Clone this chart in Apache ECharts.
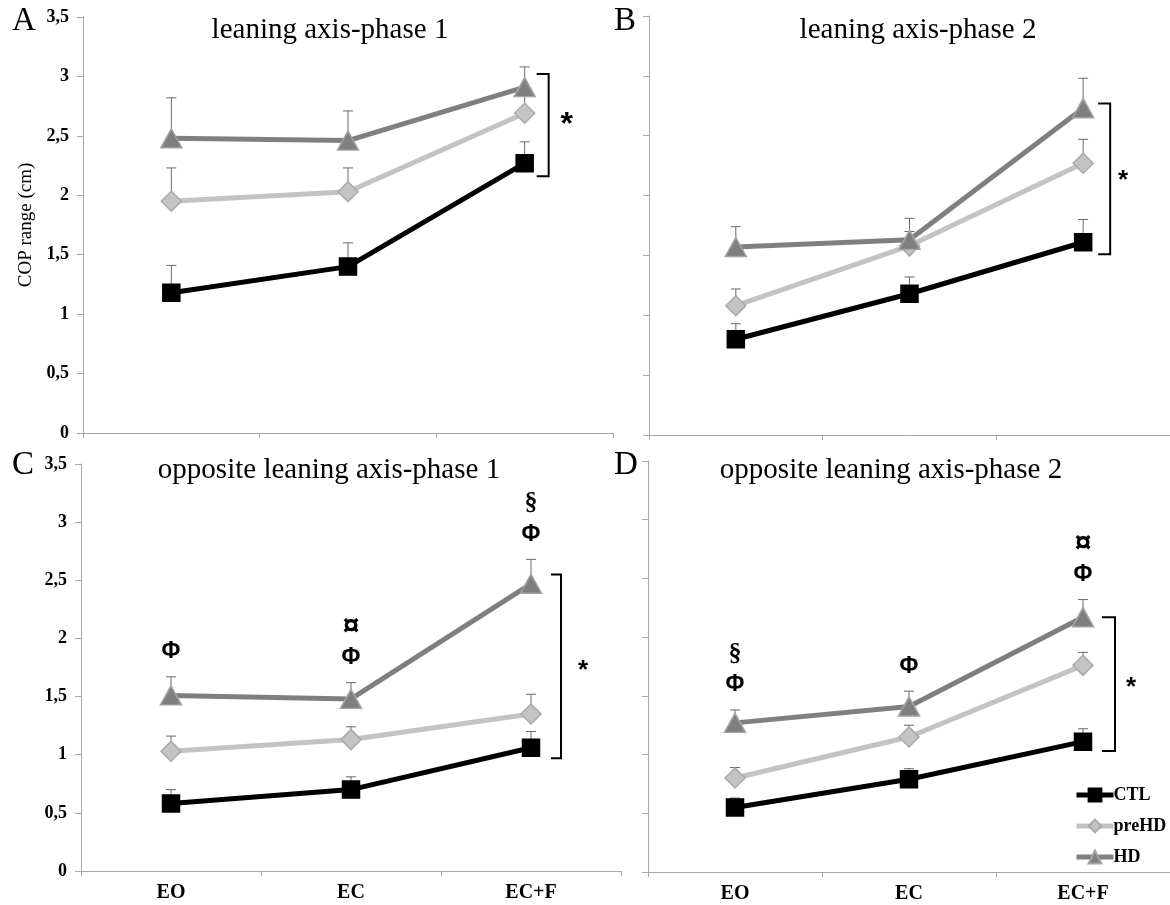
<!DOCTYPE html>
<html>
<head>
<meta charset="utf-8">
<script src="https://cdn.jsdelivr.net/npm/echarts@6/dist/echarts.min.js"></script>
<style>
html,body{margin:0;padding:0;background:#fff;}
#chart{width:1170px;height:905px;}
</style>
</head>
<body>
<div id="chart"></div>
<script>
// ---------- DATA ----------
const categories = ['EO', 'EC', 'EC+F'];
const yTicks = [0, 0.5, 1, 1.5, 2, 2.5, 3, 3.5];
const seriesNames = ['CTL', 'preHD', 'HD'];

// Panel A: leaning axis-phase 1
const A_CTL = [1.18, 1.40, 2.27];
const A_CTL_err = [1.41, 1.60, 2.45];
const A_preHD = [1.95, 2.03, 2.69];
const A_preHD_err = [2.23, 2.23, 2.84];
const A_HD = [2.48, 2.46, 2.91];
const A_HD_err = [2.82, 2.71, 3.08];

// Panel B: leaning axis-phase 2
const B_CTL = [0.80, 1.18, 1.61];
const B_CTL_err = [0.93, 1.32, 1.80];
const B_preHD = [1.08, 1.58, 2.27];
const B_preHD_err = [1.22, 1.70, 2.47];
const B_HD = [1.57, 1.63, 2.73];
const B_HD_err = [1.74, 1.81, 2.98];

// Panel C: opposite leaning axis-phase 1
const C_CTL = [0.58, 0.70, 1.06];
const C_CTL_err = [0.70, 0.81, 1.20];
const C_preHD = [1.03, 1.13, 1.35];
const C_preHD_err = [1.16, 1.24, 1.52];
const C_HD = [1.51, 1.48, 2.47];
const C_HD_err = [1.67, 1.62, 2.68];

// Panel D: opposite leaning axis-phase 2
const D_CTL = [0.55, 0.79, 1.11];
const D_CTL_err = [0.63, 0.88, 1.22];
const D_preHD = [0.80, 1.15, 1.76];
const D_preHD_err = [0.89, 1.25, 1.87];
const D_HD = [1.27, 1.41, 2.17];
const D_HD_err = [1.38, 1.54, 2.32];

// significance annotations above the HD error bars (bottom to top)
const C_marks = [['Φ'], ['Φ', '¤'], ['Φ', '§']];
const D_marks = [['Φ', '§'], ['Φ'], ['Φ', '¤']];

// significance brackets at EC+F: [top, bottom]
const A_bracket = [3.02, 2.16];
const B_bracket = [2.77, 1.51];
const C_bracket = [2.55, 0.97];
const D_bracket = [2.17, 1.03];

const titles = ['leaning axis-phase 1', 'leaning axis-phase 2', 'opposite leaning axis-phase 1', 'opposite leaning axis-phase 2'];
const letters = ['A', 'B', 'C', 'D'];

// ---------- STYLE ----------
const SERIF = '"Liberation Serif", "Times New Roman", serif';
const SANS = '"Liberation Sans", Arial, sans-serif';
const AXIS_GREY = '#a6a6a6';
const ERR_GREY = '#6a6a6a';
const markFont = { 'Φ': 'bold 23px ' + SANS, '¤': 'bold 30px ' + SANS, '§': 'bold 26px ' + SERIF };

const panels = [
  { ctl: A_CTL, ctlE: A_CTL_err, pre: A_preHD, preE: A_preHD_err, hd: A_HD, hdE: A_HD_err,
    marks: null, bracket: A_bracket, bdx: [12, 24], sdx: 42, sSize: 32, sDy: 0,
    grid: { left: 83, top: 17, width: 530, height: 416 }, yLabels: true, xLabels: false, yName: 'COP range (cm)',
    title: { x: 330, y: 16 }, letter: { x: 12, y: 5 } },
  { ctl: B_CTL, ctlE: B_CTL_err, pre: B_preHD, preE: B_preHD_err, hd: B_HD, hdE: B_HD_err,
    marks: null, bracket: B_bracket, bdx: [15, 27], sdx: 40, sSize: 26, sDy: 2,
    grid: { left: 649, top: 16, width: 522, height: 419 }, yLabels: false, xLabels: false, yName: '',
    title: { x: 918, y: 16 }, letter: { x: 614, y: 5 } },
  { ctl: C_CTL, ctlE: C_CTL_err, pre: C_preHD, preE: C_preHD_err, hd: C_HD, hdE: C_HD_err,
    marks: C_marks, bracket: C_bracket, bdx: [20, 30], sdx: 52, sSize: 26, sDy: 4,
    grid: { left: 81, top: 464, width: 540, height: 407 }, yLabels: true, xLabels: true, yName: '',
    title: { x: 329, y: 456 }, letter: { x: 12, y: 449 } },
  { ctl: D_CTL, ctlE: D_CTL_err, pre: D_preHD, preE: D_preHD_err, hd: D_HD, hdE: D_HD_err,
    marks: D_marks, bracket: D_bracket, bdx: [19, 32], sdx: 48, sSize: 26, sDy: 4,
    grid: { left: 648, top: 461, width: 522, height: 411 }, yLabels: false, xLabels: true, yName: '',
    title: { x: 891, y: 456 }, letter: { x: 614, y: 449 } }
];

const looks = [
  { name: 'CTL', color: '#000000', symbol: 'rect', size: [17, 17], border: '#000000' },
  { name: 'preHD', color: '#c3c3c3', symbol: 'diamond', size: [20, 20], border: '#a9a9a9' },
  { name: 'HD', color: '#7f7f7f', symbol: 'triangle', size: [21, 19], border: '#a3a3a3' }
];

const grids = [], xAxes = [], yAxes = [], series = [], titleComps = [];

panels.forEach((p, i) => {
  grids.push(Object.assign({ containLabel: false }, p.grid));
  xAxes.push({
    type: 'category', gridIndex: i, data: categories, boundaryGap: true,
    axisLine: { lineStyle: { color: AXIS_GREY, width: 1 } },
    axisTick: { show: true, length: 5, lineStyle: { color: AXIS_GREY } },
    axisLabel: { show: p.xLabels, fontFamily: SERIF, fontWeight: 'bold', fontSize: 20, color: '#000', margin: 12 },
    splitLine: { show: false }
  });
  yAxes.push({
    type: 'value', gridIndex: i, min: yTicks[0], max: yTicks[yTicks.length - 1], interval: 0.5,
    axisLine: { show: true, lineStyle: { color: AXIS_GREY, width: 1 } },
    axisTick: { show: true, length: 6, lineStyle: { color: AXIS_GREY } },
    axisLabel: { show: p.yLabels, fontFamily: SERIF, fontWeight: 'bold', fontSize: 18, color: '#000', margin: 14,
      formatter: v => String(v).replace('.', ',') },
    splitLine: { show: false },
    name: p.yName, nameLocation: 'middle', nameGap: 47, nameRotate: 90,
    nameTextStyle: { fontFamily: SERIF, fontSize: 19, color: '#000' }
  });

  const vals = [p.ctl, p.pre, p.hd];
  const errs = [p.ctlE, p.preE, p.hdE];

  // error bars (one-sided, upward)
  vals.forEach((v, k) => {
    series.push({
      type: 'custom', name: 'err' + i + k, xAxisIndex: i, yAxisIndex: i, z: 1, silent: true,
      data: v.map((val, j) => [j, val, errs[k][j]]),
      renderItem: (params, api) => {
        const p0 = api.coord([api.value(0), api.value(1)]);
        const p1 = api.coord([api.value(0), api.value(2)]);
        const st = { stroke: ERR_GREY, lineWidth: 1 };
        return { type: 'group', children: [
          { type: 'line', shape: { x1: p0[0], y1: p0[1], x2: p1[0], y2: p1[1] }, style: st },
          { type: 'line', shape: { x1: p1[0] - 5, y1: p1[1], x2: p1[0] + 5, y2: p1[1] }, style: st }
        ] };
      }
    });
  });

  // lines
  vals.forEach((v, k) => {
    const lk = looks[k];
    series.push({
      type: 'line', name: lk.name, xAxisIndex: i, yAxisIndex: i, z: 3 + k,
      data: v, symbol: lk.symbol, symbolSize: lk.size, showAllSymbol: true,
      lineStyle: { color: lk.color, width: 5 },
      itemStyle: { color: lk.color, borderColor: lk.border, borderWidth: 1.5, opacity: 1 },
      emphasis: { disabled: true }, animation: false
    });
  });

  // significance marks above HD
  if (p.marks) {
    series.push({
      type: 'custom', name: 'marks' + i, xAxisIndex: i, yAxisIndex: i, z: 10, silent: true,
      data: p.marks.map((m, j) => [j, p.hdE[j]]),
      renderItem: (params, api) => {
        const j = api.value(0);
        const c = api.coord([j, api.value(1)]);
        const list = p.marks[j];
        return { type: 'group', children: list.map((t, n) => ({
          type: 'text',
          style: { text: t, x: c[0], y: c[1] - 25 - n * 31, align: 'center', verticalAlign: 'middle',
            fill: '#000', font: markFont[t] }
        })) };
      }
    });
  }

  // bracket with asterisk at EC+F
  series.push({
    type: 'custom', name: 'bracket' + i, xAxisIndex: i, yAxisIndex: i, z: 10, silent: true,
    data: [[2, p.bracket[0], p.bracket[1]]],
    renderItem: (params, api) => {
      const t = api.coord([api.value(0), api.value(1)]);
      const b = api.coord([api.value(0), api.value(2)]);
      const x1 = t[0] + p.bdx[0], x2 = t[0] + p.bdx[1];
      return { type: 'group', children: [
        { type: 'polyline', shape: { points: [[x1, t[1]], [x2, t[1]], [x2, b[1]], [x1, b[1]]] },
          style: { stroke: '#000', lineWidth: 2, fill: null } },
        { type: 'text', style: { text: '*', x: t[0] + p.sdx, y: (t[1] + b[1]) / 2 + p.sDy,
          align: 'center', verticalAlign: 'middle', fill: '#000', font: 'bold ' + p.sSize + 'px ' + SANS } }
      ] };
    }
  });

  titleComps.push({ text: titles[i], left: p.title.x, top: p.title.y, textAlign: 'center', padding: 0,
    textStyle: { fontFamily: SERIF, fontWeight: 'normal', fontSize: 29, color: '#000' } });
  titleComps.push({ text: letters[i], left: p.letter.x, top: p.letter.y, padding: 0,
    textStyle: { fontFamily: SERIF, fontWeight: 'normal', fontSize: 33, color: '#000' } });
});

const chart = echarts.init(document.getElementById('chart'), null, { renderer: 'canvas' });
chart.setOption({
  backgroundColor: '#ffffff',
  animation: false,
  title: titleComps,
  grid: grids,
  xAxis: xAxes,
  yAxis: yAxes,
  legend: {
    data: seriesNames, orient: 'vertical', left: 1074, top: 786,
    itemWidth: 37, itemHeight: 16, itemGap: 13, padding: 0,
    lineStyle: { width: 5 },
    textStyle: { fontFamily: SERIF, fontWeight: 'bold', fontSize: 18, color: '#000', padding: [0, 0, 0, -5] },
    selectedMode: false
  },
  series: series
});
</script>
</body>
</html>
